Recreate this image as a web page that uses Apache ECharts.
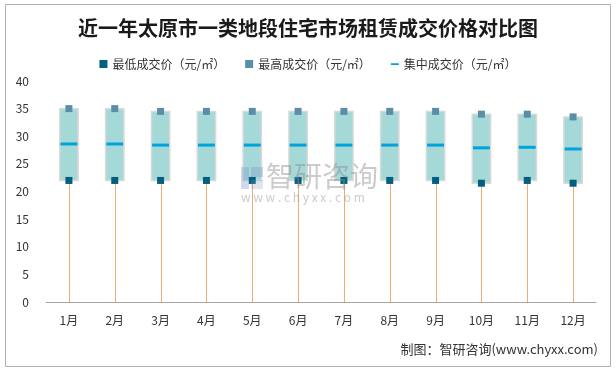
<!DOCTYPE html>
<html><head><meta charset="utf-8">
<script src="https://cdn.jsdelivr.net/npm/echarts@6/dist/echarts.min.js"></script>
<style>html,body{margin:0;padding:0;background:#fff}#c{width:616px;height:371px}</style>
</head><body><div id="c"></div>
<script>
var months = ['1月','2月','3月','4月','5月','6月','7月','8月','9月','10月','11月','12月'];
var minVals = [22,22,22,22,22,22,22,22,22,21.5,22,21.5];
var maxVals = [35,35,34.5,34.5,34.5,34.5,34.5,34.5,34.5,34,34,33.5];
var midVals = [28.6,28.6,28.4,28.4,28.4,28.4,28.4,28.4,28.4,27.9,28,27.7];
var yTicks = [0,5,10,15,20,25,30,35,40];

var FONT = '"Noto Sans CJK SC", "Microsoft YaHei", sans-serif';
var chart = echarts.init(document.getElementById('c'), null, {renderer:'canvas'});
var boxData = months.map(function(m,i){return [i, minVals[i], maxVals[i]];});
var dashIcon = 'path://M0,0L0.01,0L0.01,0.01Z M0,4H10V6.4H0Z M0,9.99L0.01,10L0,10Z';
var nMin = '最低成交价（元/㎡）', nMax = '最高成交价（元/㎡）', nMid = '集中成交价（元/㎡）';

chart.setOption({
  animation:false,
  backgroundColor:'#fff',
  title:{text:'近一年太原市一类地段住宅市场租赁成交价格对比图', left:'center', top:13,
    textStyle:{fontFamily:FONT, fontSize:20, fontWeight:'bold', color:'#1a1a1a'}},
  legend:{top:53, left:'center', itemGap:20, itemWidth:8, itemHeight:8,
    textStyle:{fontFamily:FONT, fontSize:12, color:'#333'},
    data:[{name:nMin, icon:'rect'},{name:nMax, icon:'rect'},{name:nMid, icon:dashIcon}]},
  grid:{left:46, right:20, top:81, bottom:69},
  xAxis:{type:'category', data:months, axisTick:{show:false},
    axisLine:{lineStyle:{color:'#a6a6a6', width:1}},
    axisLabel:{fontFamily:FONT, fontSize:12, color:'#333', margin:12}},
  yAxis:{type:'value', min:0, max:40, interval:5, splitLine:{show:false},
    axisLine:{show:false}, axisTick:{show:false},
    axisLabel:{fontFamily:FONT, fontSize:12, color:'#333', margin:17}},
  graphic:[
    {type:'rect', shape:{x:5.5,y:4.5,width:605,height:362}, style:{fill:null, stroke:'#b0b0b0', lineWidth:1}, silent:true, z:-10},
    {type:'rect', shape:{x:241,y:167,width:8,height:22}, style:{fill:'rgba(120,150,200,0.35)'}, z:100},
    {type:'rect', shape:{x:251,y:167,width:12,height:10}, style:{fill:'rgba(120,150,200,0.35)'}, z:100},
    {type:'rect', shape:{x:251,y:180,width:12,height:9}, style:{fill:'rgba(120,150,200,0.25)'}, z:100},
    {type:'text', left:266, top:162, style:{text:'智研咨询', font:'28px '+FONT, fill:'rgba(140,140,140,0.45)'}, z:100},
    {type:'text', left:241, top:191, style:{text:'w w w . c h y x x . c o m', font:'12px '+FONT, fill:'rgba(140,140,140,0.45)'}, z:100},
    {type:'text', right:18, top:343, style:{text:'制图：智研咨询(www.chyxx.com)', font:'13px '+FONT, fill:'#333'}}
  ],
  series:[
    {type:'custom', name:'box', z:2, data:boxData, encode:{x:0,y:[1,2]},
      renderItem:function(params, api){
        var i = api.value(0);
        var pMin = api.coord([i, api.value(1)]);
        var pMax = api.coord([i, api.value(2)]);
        var p0 = api.coord([i, 0]);
        var w = api.size([1,0])[0]*0.4;
        return {type:'group', children:[
          {type:'line', shape:{x1:Math.round(p0[0])+0.5, y1:p0[1], x2:Math.round(p0[0])+0.5, y2:pMin[1]}, style:{stroke:'#eeae73', lineWidth:1}},
          {type:'rect', shape:{x:p0[0]-w/2, y:pMax[1], width:w, height:pMin[1]-pMax[1]}, style:{fill:'#a5d9d7', stroke:'#d9d9d9', lineWidth:1.5}}
        ]};
      }},
    {type:'custom', name:nMid, z:3, data:midVals.map(function(v,i){return [i,v];}),
      itemStyle:{color:'#00a3dc'}, encode:{x:0,y:1},
      renderItem:function(params, api){
        var p = api.coord([api.value(0), api.value(1)]);
        var w = api.size([1,0])[0]*0.37;
        return {type:'rect', shape:{x:p[0]-w/2, y:p[1]-1.5, width:w, height:3}, style:{fill:'#00a3dc'}};
      }},
    {type:'scatter', name:nMin, z:4, data:minVals, symbol:'rect', symbolSize:7,
      itemStyle:{color:'#035f80', opacity:1}},
    {type:'scatter', name:nMax, z:4, data:maxVals, symbol:'rect', symbolSize:7,
      itemStyle:{color:'#5a8da7', opacity:1}}
  ]
});
</script></body></html>
